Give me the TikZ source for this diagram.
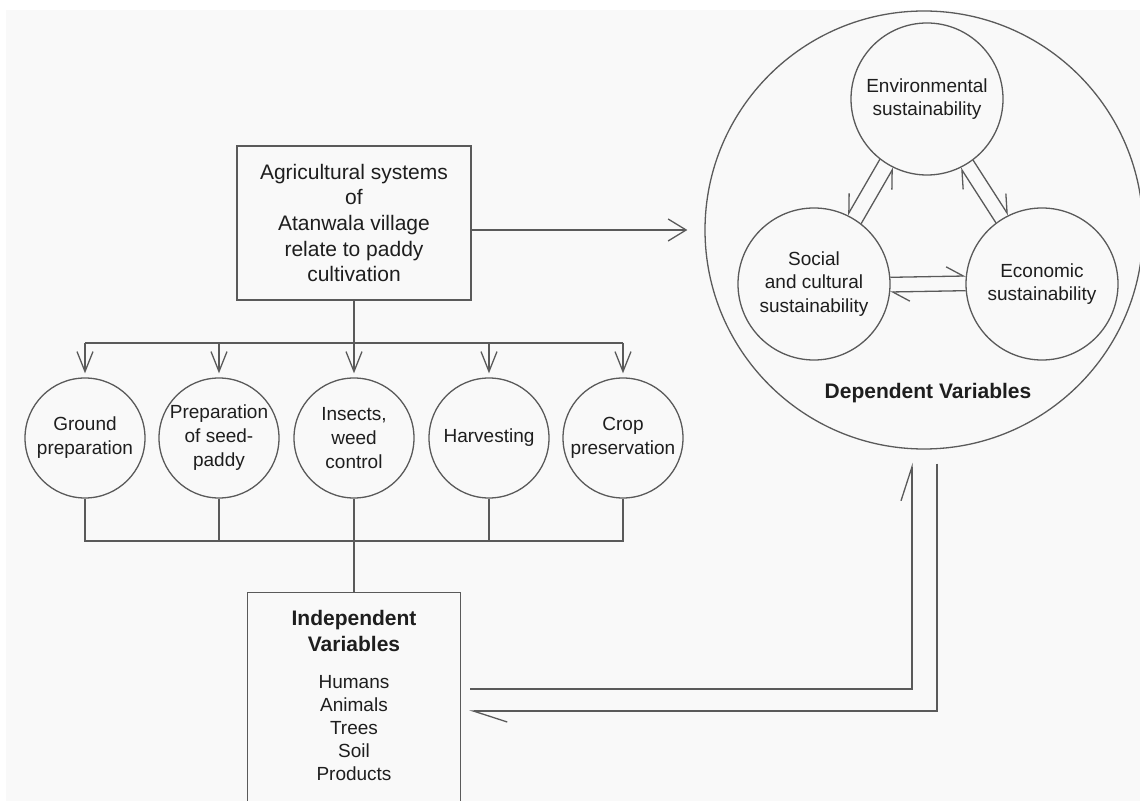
\documentclass[tikz,border=0pt]{standalone}
\usepackage{fontspec}
\setmainfont{Liberation Sans}
\usetikzlibrary{arrows.meta}
\definecolor{linegray}{HTML}{5A5A5A}
\definecolor{textgray}{HTML}{1E1E1E}
\definecolor{paper}{HTML}{F9F9F9}
\newcommand{\boxfont}{\fontsize{10.5}{12.85}\selectfont}
\newcommand{\stagefont}{\fontsize{9.5}{12}\selectfont}
\newcommand{\pillarfont}{\fontsize{9.5}{11.7}\selectfont}
\newcommand{\listfont}{\fontsize{9.5}{11.5}\selectfont}
\newcommand{\headfont}{\fontsize{10.5}{13}\selectfont\bfseries}
\tikzset{
  link/.style={draw=linegray, line width=0.65pt},
  sysbox/.style={link, rectangle, align=center, text=textgray, font=\boxfont,
    minimum width=117pt, minimum height=77pt, inner sep=0pt},
  stage/.style={link, circle, align=center, text=textgray, font=\stagefont,
    minimum size=60pt, inner sep=0pt},
  pillar/.style={link, circle, align=center, text=textgray, font=\pillarfont,
    minimum size=76pt, inner sep=0pt},
  vdown/.style={link, -{Straight Barb[length=10pt,width=8pt]}},
  vright/.style={link, -{Straight Barb[length=9pt,width=11pt]}},
  hleft/.style={link, -{Straight Barb[left,length=8.5pt,width=9.5pt]}},
  hright/.style={link, -{Straight Barb[right,length=8.5pt,width=9.5pt]}},
  hlong/.style={link, -{Straight Barb[left,length=17pt,width=11pt]}}
}
\begin{document}
\begin{tikzpicture}[x=0.5pt,y=-0.5pt]
    \useasboundingbox (0,0) rectangle (1140,801);
    \clip (0,0) rectangle (1140,801);
    \fill[white] (0,0) rectangle (1140,801);
    \fill[paper] (6,10) rectangle (1140,801);
    % agricultural system and its stages
    \node[sysbox] (agri) at (354,223) {Agricultural systems\\of\\Atanwala village\\relate to paddy\\cultivation};
    \node[stage] (ground) at (85,438) {Ground\\preparation};
    \node[stage] (seed) at (219,438) {Preparation\\of seed-\\paddy};
    \node[stage] (insect) at (354,438) {Insects,\\weed\\control};
    \node[stage] (harvest) at (489,438) {Harvesting};
    \node[stage] (crop) at (623,438) {Crop\\preservation};
    \node[link, rectangle, anchor=north, align=center, text=textgray, font=\listfont,
      minimum width=106.5pt, inner xsep=0pt, inner ysep=9pt, text depth=100pt] (indep) at (354,592)
      {{\headfont Independent}\\[1.5pt]{\headfont Variables}\\[7pt]Humans\\Animals\\Trees\\Soil\\Products};
    \coordinate (bustop) at (354,343);
    \coordinate (busbot) at (354,541);
    \draw[link] (agri.south) -- (bustop);
    \draw[link] (ground.north |- bustop) -- (crop.north |- bustop);
    \draw[vdown, shorten >=2pt] (ground.north |- bustop) -- (ground.north);
    \draw[vdown, shorten >=2pt] (seed.north |- bustop) -- (seed.north);
    \draw[vdown, shorten >=2pt] (insect.north |- bustop) -- (insect.north);
    \draw[vdown, shorten >=2pt] (harvest.north |- bustop) -- (harvest.north);
    \draw[vdown, shorten >=2pt] (crop.north |- bustop) -- (crop.north);
    \draw[link] (ground.south) |- (busbot -| crop.south) -- (crop.south);
    \draw[link] (seed.south) -- (seed.south |- busbot);
    \draw[link] (harvest.south) -- (harvest.south |- busbot);
    \draw[link] (insect.south) -- (indep.north);
    % sustainability
    \node[link, circle, minimum size=219pt, inner sep=0pt] (dv) at (924,230) {};
    \node[font=\headfont, text=textgray] (dvlabel) at (928,393) {Dependent Variables};
    \node[pillar] (env) at (927,99) {Environmental\\sustainability};
    \node[pillar] (soc) at (814,284) {Social\\and cultural\\sustainability};
    \node[pillar] (eco) at (1042,284) {Economic\\sustainability};
    \draw[vright, shorten >=8.5pt] (agri.east |- dv.west) -- (dv.west);
    \draw[hleft] (soc.5.66) -- (eco.174.34);
    \draw[hleft] (eco.185.66) -- (soc.354.34);
    \draw[hright] (env.232.9) -- (soc.64.3);
    \draw[hright] (soc.52.9) -- (env.244.3);
    \draw[hleft] (env.307.5) -- (eco.116.2);
    \draw[hleft] (eco.127.5) -- (env.296.2);
    % feedback loop
    \coordinate (upturn) at (912,689);
    \coordinate (downturn) at (937,711);
    \draw[hlong, shorten <=4.5pt, shorten >=6.5pt] (indep.east |- upturn) -| (dv.south -| upturn);
    \draw[hlong, shorten <=7pt, shorten >=4pt] (dv.south -| downturn) |- (indep.east |- downturn);
\end{tikzpicture}
\end{document}
